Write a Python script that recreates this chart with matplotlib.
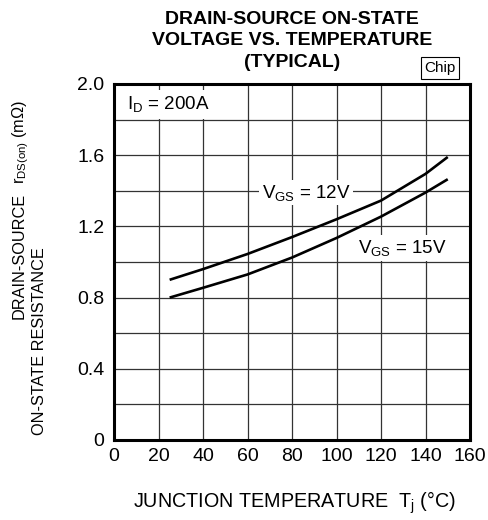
import matplotlib
matplotlib.use("Agg")
import matplotlib.pyplot as plt

plt.rcParams['font.family'] = ['Liberation Sans', 'DejaVu Sans']
plt.rcParams['mathtext.fontset'] = 'custom'
plt.rcParams['mathtext.rm'] = 'Liberation Sans'
plt.rcParams['mathtext.it'] = 'Liberation Sans'

# data
temp = [25, 40, 60, 80, 100, 120, 140, 150]
rds_12v = [0.90, 0.96, 1.045, 1.14, 1.24, 1.345, 1.495, 1.59]
rds_15v = [0.80, 0.855, 0.93, 1.025, 1.135, 1.255, 1.39, 1.465]

xticks = [0, 20, 40, 60, 80, 100, 120, 140, 160]
yticks = [0, 0.4, 0.8, 1.2, 1.6, 2.0]
ytick_labels = ['0', '0.4', '0.8', '1.2', '1.6', '2.0']
ygrid = [0.2, 0.4, 0.6, 0.8, 1.0, 1.2, 1.4, 1.6, 1.8]

W, H = 488, 520
fig = plt.figure(figsize=(W / 100, H / 100), dpi=100)
ax = fig.add_axes([114 / W, 1 - 440 / H, 356 / W, 356 / H])

ax.set_xlim(0, 160)
ax.set_ylim(0, 2.0)

# grid
for x in xticks[1:-1]:
    ax.axvline(x, color='#333333', lw=0.9, zorder=1)
for y in ygrid:
    ax.axhline(y, color='#333333', lw=0.9, zorder=1)

ax.plot(temp, rds_12v, color='black', lw=1.9, zorder=3, solid_capstyle='butt')
ax.plot(temp, rds_15v, color='black', lw=1.9, zorder=3, solid_capstyle='butt')

for s in ax.spines.values():
    s.set_linewidth(2.2)

ax.set_xticks(xticks)
ax.set_yticks(yticks)
ax.set_yticklabels(ytick_labels)
ax.tick_params(length=0, labelsize=14, pad=7)
ax.tick_params(axis='x', pad=6)

box = dict(facecolor='white', edgecolor='none', pad=2)
ax.text(6, 1.885, r'I$_{\mathrm{D}}$ = 200A', fontsize=13.5, va='center', ha='left',
        bbox=dict(facecolor='white', edgecolor='none', pad=3), zorder=2)
ax.text(86.3, 1.39, r'V$_{\mathrm{GS}}$ = 12V', fontsize=13.5, va='center', ha='center',
        bbox=box, zorder=2)
ax.text(129.4, 1.08, r'V$_{\mathrm{GS}}$ = 15V', fontsize=13.5, va='center', ha='center',
        bbox=box, zorder=2)

# title
tx = 292 / W
fig.text(tx, 1 - 19.5 / H, 'DRAIN-SOURCE ON-STATE', ha='center', va='center',
         fontsize=14, fontweight='bold')
fig.text(tx, 1 - 41 / H, 'VOLTAGE VS. TEMPERATURE', ha='center', va='center',
         fontsize=14, fontweight='bold')
fig.text(tx, 1 - 62.5 / H, '(TYPICAL)', ha='center', va='center',
         fontsize=14, fontweight='bold')
fig.text(440 / W, 1 - 68 / H, 'Chip', ha='center', va='center', fontsize=11,
         bbox=dict(facecolor='white', edgecolor='black', lw=0.8, pad=2.5))

# axis labels
fig.text(295 / W, 1 - 503 / H, r'JUNCTION TEMPERATURE  T$_{\mathrm{j}}$ (°C)',
         ha='center', va='center', fontsize=14.2)
fig.text(19 / W, 1 - 256 / H, 'DRAIN-SOURCE', rotation=90, ha='center', va='center',
         fontsize=11.7)
fig.text(40 / W, 1 - 341 / H, 'ON-STATE RESISTANCE', rotation=90, ha='center',
         va='center', fontsize=11.7)
fig.text(21 / W, 1 - 142 / H, r'r$_{\mathrm{DS(on)}}$ (m$\Omega$)', rotation=90,
         ha='center', va='center', fontsize=11.7)

fig.savefig('out.png', dpi=100)
